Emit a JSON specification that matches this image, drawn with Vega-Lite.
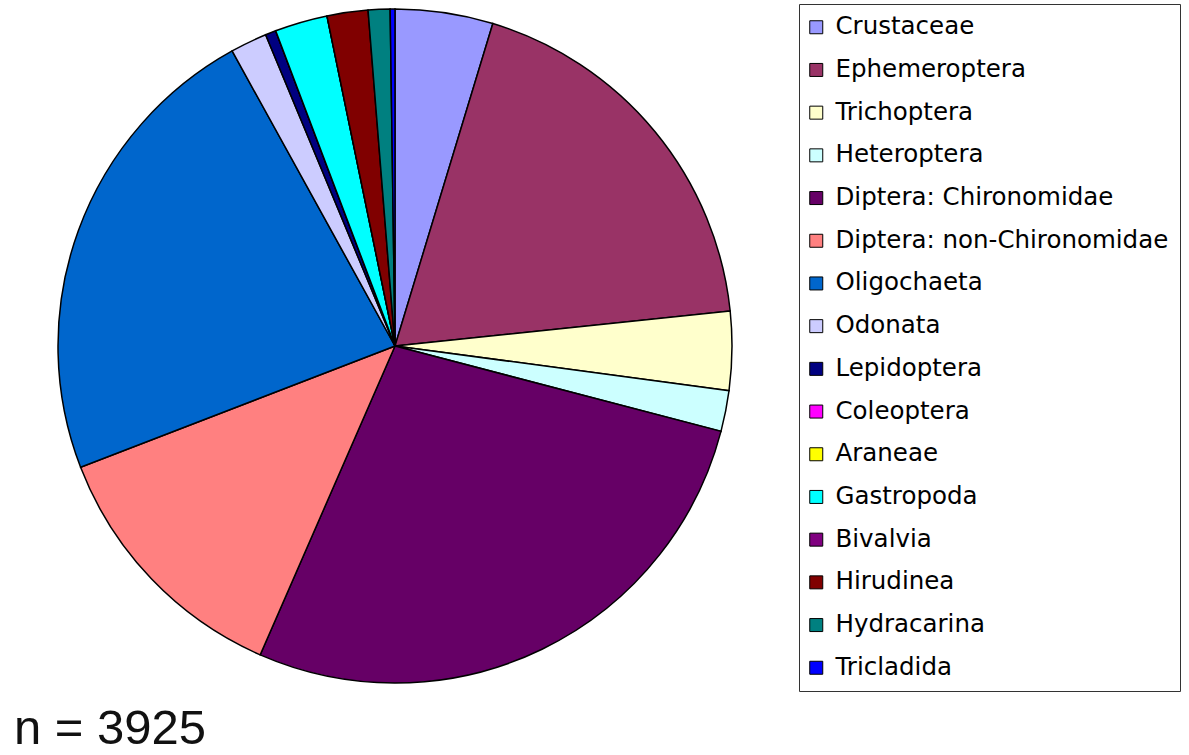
{
  "$schema": "https://vega.github.io/schema/vega-lite/v6.json",
  "width": 790,
  "height": 692,
  "autosize": {"type": "none"},
  "padding": {"left": 0, "top": 0, "right": 399, "bottom": 63},
  "background": "white",
  "data": {
    "values": [
      {"taxon": "Crustaceae", "count": 184, "idx": 1},
      {"taxon": "Ephemeroptera", "count": 732, "idx": 2},
      {"taxon": "Trichoptera", "count": 148, "idx": 3},
      {"taxon": "Heteroptera", "count": 77, "idx": 4},
      {"taxon": "Diptera: Chironomidae", "count": 1078, "idx": 5},
      {"taxon": "Diptera: non-Chironomidae", "count": 494, "idx": 6},
      {"taxon": "Oligochaeta", "count": 896, "idx": 7},
      {"taxon": "Odonata", "count": 69, "idx": 8},
      {"taxon": "Lepidoptera", "count": 20, "idx": 9},
      {"taxon": "Coleoptera", "count": 0, "idx": 10},
      {"taxon": "Araneae", "count": 0, "idx": 11},
      {"taxon": "Gastropoda", "count": 99, "idx": 12},
      {"taxon": "Bivalvia", "count": 0, "idx": 13},
      {"taxon": "Hirudinea", "count": 77, "idx": 14},
      {"taxon": "Hydracarina", "count": 41, "idx": 15},
      {"taxon": "Tricladida", "count": 9, "idx": 16}
    ]
  },
  "title": {
    "text": "n = 3925",
    "orient": "bottom",
    "anchor": "start",
    "font": "Liberation Sans",
    "fontSize": 49,
    "fontWeight": "normal",
    "color": "#111111",
    "baseline": "alphabetic",
    "offset": 52,
    "dx": 14
  },
  "mark": {"type": "arc", "radius": 337, "stroke": "#000000", "strokeWidth": 1.5},
  "encoding": {
    "theta": {"field": "count", "type": "quantitative", "stack": true},
    "order": {"field": "idx", "type": "quantitative"},
    "color": {
      "field": "taxon",
      "type": "nominal",
      "scale": {
        "domain": ["Crustaceae", "Ephemeroptera", "Trichoptera", "Heteroptera", "Diptera: Chironomidae", "Diptera: non-Chironomidae", "Oligochaeta", "Odonata", "Lepidoptera", "Coleoptera", "Araneae", "Gastropoda", "Bivalvia", "Hirudinea", "Hydracarina", "Tricladida"],
        "range": ["#9999FF", "#993366", "#FFFFCC", "#CCFFFF", "#660066", "#FF8080", "#0066CC", "#CCCCFF", "#000080", "#FF00FF", "#FFFF00", "#00FFFF", "#800080", "#800000", "#008080", "#0000FF"]
      },
      "legend": {
        "title": null,
        "orient": "none",
        "legendX": 799,
        "legendY": 4,
        "direction": "vertical",
        "symbolType": "square",
        "symbolSize": 169,
        "symbolOffset": -6,
        "symbolStrokeColor": "#000000",
        "symbolStrokeWidth": 1,
        "symbolOpacity": 1,
        "labelFont": "DejaVu Sans",
        "labelFontSize": 24.5,
        "labelColor": "#000000",
        "labelOffset": 7,
        "labelLimit": 400,
        "rowPadding": 17.7,
        "padding": 11,
        "strokeColor": "#333333",
        "fillColor": "white"
      }
    }
  },
  "config": {"view": {"stroke": null}}
}
